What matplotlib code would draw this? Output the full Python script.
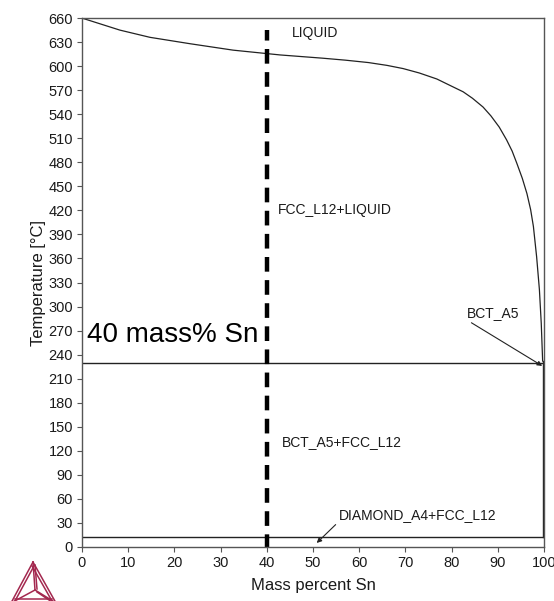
import matplotlib
matplotlib.use("Agg")
import matplotlib.pyplot as plt
from matplotlib.lines import Line2D

plt.rcParams['font.family'] = ['Liberation Sans', 'DejaVu Sans']

# liquidus (mass% Sn, T in C)
liq_x = [0, 8.2, 14.7, 23.4, 32.7, 42.9, 52, 57, 62, 66, 69.5, 73, 76.8, 80, 82.5, 84.5, 86.8,
         88.5, 90.3, 91.9, 93.1, 94.1, 95.3, 96.3, 97.1, 97.7, 98.4, 99.0, 99.4, 99.7]
liq_T = [660, 645, 636, 628, 620, 614, 610, 607.5, 604.5, 601, 597, 591.5, 584, 575, 568, 560, 549,
         538, 524, 508, 494, 479, 460, 441, 421, 400, 362, 321, 279, 232]
eutectic_T = 229
diamond_T = 13
sn_line_x = 40
sn_line_T = [-2, 645]

phase_labels = ["LIQUID", "FCC_L12+LIQUID", "BCT_A5+FCC_L12"]
phase_x = [45.4, 42.4, 43.2]
phase_T = [641, 420, 131]

yticks = list(range(0, 661, 30))
xticks = list(range(0, 101, 10))

fig = plt.figure(figsize=(5.54, 6.01), dpi=100)
ax = fig.add_axes([0.148, 0.0899, 0.834, 0.880])

ax.plot(liq_x, liq_T, color='#222222', lw=0.9)
ax.plot([0, 99.7], [eutectic_T, eutectic_T], color='#222222', lw=1.0)
ax.plot([0, 100], [diamond_T, diamond_T], color='#222222', lw=1.0)
ax.plot([99.7, 99.7], [eutectic_T + 3, diamond_T], color='#222222', lw=1.0)
ax.plot([sn_line_x, sn_line_x], sn_line_T, color='black', lw=3.2, ls=(0, (3.3, 1.9)))

for lab, x, t in zip(phase_labels, phase_x, phase_T):
    ax.text(x, t, lab, fontsize=10, ha='left', va='center', color='#1a1a1a')

ax.annotate("BCT_A5", xy=(99.6, 226), xytext=(83.3, 292), fontsize=10,
            ha='left', va='center', color='#1a1a1a',
            arrowprops=dict(arrowstyle='-|>', lw=0.8, color='#222222',
                            shrinkA=0, shrinkB=0, mutation_scale=7,
                            relpos=(0.0, 0.0)))
ax.annotate("DIAMOND_A4+FCC_L12", xy=(50.8, 5), xytext=(55.5, 40), fontsize=10,
            ha='left', va='center', color='#1a1a1a',
            arrowprops=dict(arrowstyle='-|>', lw=0.8, color='#222222',
                            shrinkA=0, shrinkB=0, mutation_scale=7,
                            relpos=(0.0, 0.0)))

ax.text(1.0, 264, "40 mass% Sn", fontsize=20, ha='left', va='center', color='black')

ax.set_xlim(0, 100)
ax.set_ylim(0, 660)
ax.set_xticks(xticks)
ax.set_yticks(yticks)
ax.tick_params(direction='out', length=3.5, width=0.8, labelsize=10.5, colors='#555555',
               labelcolor='#1a1a1a', pad=3)
for s in ax.spines.values():
    s.set_color('#555555')
    s.set_linewidth(1.0)
ax.set_xlabel('Mass percent Sn', fontsize=12, color='#1a1a1a', labelpad=6)
ax.set_ylabel('Temperature [°C]', fontsize=12, color='#1a1a1a', labelpad=2)

# Thermo-Calc style logo (bottom left)
W, H = 554.0, 601.0
def fl(px, py):
    return [p / W for p in px], [1 - p / H for p in py]
logo_c = '#a3284f'
apex = (33, 562)
bl = (11, 603)
br = (56, 603)
mid = (35, 590)
segs = [
    ([apex[0], bl[0]], [apex[1], bl[1]]),
    ([apex[0] + 1, bl[0] + 4], [apex[1] + 4, bl[1] - 2]),
    ([apex[0], br[0]], [apex[1], br[1]]),
    ([apex[0] - 1, br[0] - 4], [apex[1] + 4, br[1] - 2]),
    ([bl[0], br[0]], [bl[1], br[1]]),
    ([apex[0], mid[0]], [apex[1], mid[1]]),
    ([apex[0] + 2, mid[0] + 2], [apex[1] + 3, mid[1] - 1]),
    ([mid[0], bl[0]], [mid[1], bl[1]]),
    ([mid[0], br[0]], [mid[1], br[1]]),
    ([mid[0] + 2, br[0] - 4], [mid[1] + 2, br[1] - 1]),
    ([bl[0] + 4, br[0] - 4], [bl[1] - 4, br[1] - 4]),
]
for sx, sy in segs:
    fx, fy = fl(sx, sy)
    fig.add_artist(Line2D(fx, fy, color=logo_c, lw=1.1))

fig.savefig('out.png', dpi=100)
